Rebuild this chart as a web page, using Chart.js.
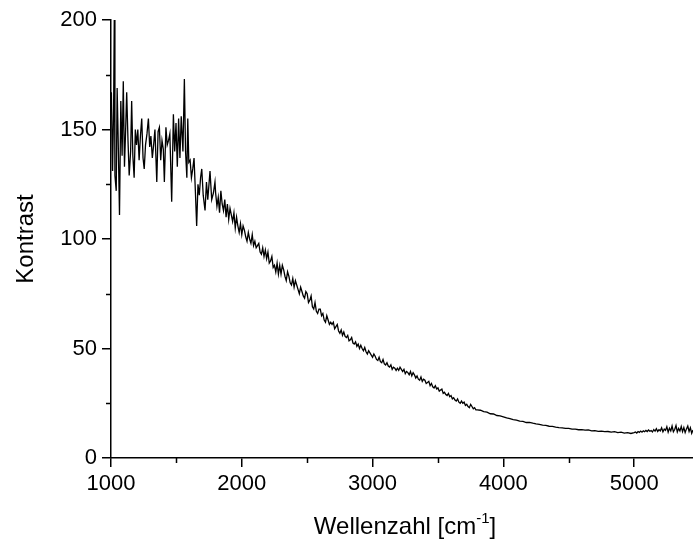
<!DOCTYPE html>
<html><head><meta charset="utf-8">
<script src="https://cdn.jsdelivr.net/npm/chart.js@4"></script>
<style>html,body{margin:0;padding:0;background:#fff}#wrap{width:693px;height:547px}</style>
</head><body><div id="wrap"><canvas id="c" width="693" height="547"></canvas></div>
<script>
const wavenumber = [
1003,1012,1020,1025,1030,1040,1047,1055,1065,1075,1085,1094,1103,1112,1120,1130,1139,1150,1158,1167,
1177,1186,1195,1205,1215,1225,1235,1245,1254,1264,1275,1286,1296,1305,1316,1326,1336,1350,1360,1370,
1380,1390,1400,1408,1420,1430,1440,1450,1464,1477,1487,1497,1507,1517,1527,1537,1550,1561,1570,1580,
1587,1595,1605,1615,1625,1635,1645,1655,1665,1675,1685,1694,1705,1719,1730,1740,1757,1770,1783,1795,
1800,1810,1820,1830,1840,1850,1860,1870,1880,1890,
1900,1910,1920,1930,1940,1950,1960,1970,1980,1990,
2000,2010,2020,2030,2040,2050,2060,2070,2080,2090,
2100,2110,2120,2130,2140,2150,2160,2170,2180,2190,
2200,2210,2220,2230,2240,2250,2260,2270,2280,2290,
2300,2310,2320,2330,2340,2350,2360,2370,2380,2390,
2400,2410,2420,2430,2440,2450,2460,2470,2480,2490,
2500,2510,2520,2530,2540,2550,2560,2570,2580,2590,
2600,2610,2620,2630,2640,2650,2660,2670,2680,2690,
2700,2710,2720,2730,2740,2750,2760,2770,2780,2790,
2800,2810,2820,2830,2840,2850,2860,2870,2880,2890,
2900,2910,2920,2930,2940,2950,2960,2970,2980,2990,
3000,3010,3020,3030,3040,3050,3060,3070,3080,3090,
3100,3110,3120,3130,3140,3150,3160,3170,3180,3190,
3200,3210,3220,3230,3240,3250,3260,3270,3280,3290,
3300,3310,3320,3330,3340,3350,3360,3370,3380,3390,
3400,3410,3420,3430,3440,3450,3460,3470,3480,3490,
3500,3510,3520,3530,3540,3550,3560,3570,3580,3590,
3600,3610,3620,3630,3640,3650,3660,3670,3680,3690,
3700,3710,3720,3730,3740,3750,3760,3770,3780,3790,
3800,3825,3850,3875,3900,3925,3950,3975,
4000,4025,4050,4075,4100,4125,4150,4175,4200,4225,4250,4275,4300,4325,4350,4375,4400,4425,4450,4475,
4500,4525,4550,4575,4600,4625,4650,4675,4700,4725,4750,4775,4800,4825,4850,4875,4900,4925,4950,4975,
5000,5010,5020,5030,5040,5050,5060,5070,5080,5090,
5100,5110,5120,5130,5140,5150,5160,5170,5180,5190,
5200,5210,5220,5230,5240,5250,5260,5270,5280,5290,
5300,5310,5320,5330,5340,5350,5360,5370,5380,5390,
5400,5410,5420,5430,5440,5450
];
const contrast = [
167,131,160,200,129,122,169,145,111,163,138,172,133,150,167,145,129,140,163,138,
128,150,143,150,136,147,155,137,132,143,148,155,142,147,137,143,150,126,149,151,
136,145,141,126,151,143,145,148,117,157,140,153,133,155,137,156,140,173,140,128,
155,135,136,128,132,137,122,106,125,120,128,132,120,113,126,118,131,118,121,126,
121,115,119,112,122,116,113,118,110,116,
109,114,111,108,112,105,110,106,103,107,
102,106,104,101,99,103,100,98,102,97,
99,96,97,98,94,93,96,92,95,91,
94,89,90,92,87,88,85,89,84,88,
84,88,86,83,81,85,83,80,79,82,
78,81,79,77,75,78,76,74,73,76,
75,71,72,74,69,68,71,67,66,68,
68,65,66,63,62,65,63,61,62,61,
62,59,60,61,58,57,58.5,56,57.5,55.5,
55,56,53.5,54,55,52.5,52,53,51,52,
50,51.5,50,49,50.5,48.5,47.5,49,48,47,
46,47.5,46.5,45,44.5,46,44,43.5,45,43,
42.5,43.5,42,41.5,42.5,40.5,41.5,41,40,41,
40,41.5,40.5,39.5,40.5,38.5,39.5,39,38,39.5,
37.5,39,38,36.5,37.5,36,35.5,37,35,36,
35.5,34,34.5,35,33,34,32.5,32,33,31.5,
32,30.5,31,31.5,29.5,30,29,28.5,29.5,28,
28.5,27,27.5,26.5,26,27,25.5,25,26,25,
25.5,24,24.5,23.5,23,24.5,23.5,22.5,23,22,
22.0,21.8,21.2,20.9,20.2,20.1,19.4,19.2,
18.8,18.3,18.0,17.5,17.3,16.8,16.7,16.2,16.3,15.9,15.6,15.4,15.0,14.9,14.5,14.4,14.1,13.9,13.8,13.5,
13.5,13.2,13.2,12.9,13.0,12.7,12.8,12.4,12.5,12.2,12.3,12.0,12.1,11.8,12.0,11.6,11.8,11.4,11.6,11.2,
11.6,11.9,11.4,12.1,11.7,12.3,11.8,12.4,12.0,12.6,
12.1,12.8,12.2,12.5,11.9,13.0,12.3,13.4,12.1,12.9,
12.4,13.8,12.0,13.2,12.6,14.3,11.8,13.6,12.4,14.6,
12.0,13.0,14.8,11.9,13.5,12.3,14.4,12.0,13.9,11.6,
13.3,14.6,12.1,13.8,11.3,12.8
];
const xTicks = [1000,2000,3000,4000,5000];
const xMinorTicks = [1500,2500,3500,4500];
const yTicks = [0,50,100,150,200];
const yMinorTicks = [25,75,125,175];
const xTitleMain = 'Wellenzahl [cm';
const xTitleSup = '-1';
const xTitleEnd = ']';
const yTitle = 'Kontrast';

const FONT = '"Liberation Sans", Arial, sans-serif';

const extras = {
  id: 'extras',
  afterDraw(chart) {
    const ctx = chart.ctx, xs = chart.scales.x, ys = chart.scales.y, ca = chart.chartArea;
    ctx.save();
    ctx.strokeStyle = '#000';
    ctx.lineWidth = 1.5;
    ctx.beginPath();
    yMinorTicks.forEach(v => { const p = Math.round(ys.getPixelForValue(v)) + 0.5; ctx.moveTo(ca.left - 5, p); ctx.lineTo(ca.left, p); });
    xMinorTicks.forEach(v => { const p = Math.round(xs.getPixelForValue(v)) + 0.5; ctx.moveTo(p, ca.bottom); ctx.lineTo(p, ca.bottom + 5); });
    ctx.stroke();
    ctx.fillStyle = '#000';
    ctx.font = '24px ' + FONT;
    const w1 = ctx.measureText(xTitleMain).width;
    const w3 = ctx.measureText(xTitleEnd).width;
    ctx.font = '15px ' + FONT;
    const w2 = ctx.measureText(xTitleSup).width;
    const cx = (ca.left + ca.right) / 2 + 3;
    const x0 = cx - (w1 + w2 + w3) / 2;
    const base = 534;
    ctx.textBaseline = 'alphabetic';
    ctx.textAlign = 'left';
    ctx.font = '24px ' + FONT;
    ctx.fillText(xTitleMain, x0, base);
    ctx.font = '15px ' + FONT;
    ctx.fillText(xTitleSup, x0 + w1, base - 11);
    ctx.font = '24px ' + FONT;
    ctx.fillText(xTitleEnd, x0 + w1 + w2, base);
    ctx.translate(26, (ca.top + ca.bottom) / 2);
    ctx.rotate(-Math.PI / 2);
    ctx.textAlign = 'center';
    ctx.textBaseline = 'middle';
    ctx.font = '24px ' + FONT;
    ctx.fillText(yTitle, 0, 0);
    ctx.restore();
  }
};

new Chart(document.getElementById('c'), {
  type: 'line',
  data: {
    datasets: [{
      data: wavenumber.map((x, i) => ({x: x, y: contrast[i]})),
      borderColor: '#000',
      borderWidth: 1.3,
      pointRadius: 0,
      tension: 0,
      fill: false
    }]
  },
  options: {
    responsive: false,
    animation: false,
    layout: {padding: {top: 20, left: 0, right: 0, bottom: 0}},
    plugins: {legend: {display: false}, tooltip: {enabled: false}},
    scales: {
      x: {
        type: 'linear', min: 1000, max: 5450,
        afterBuildTicks: s => { s.ticks = xTicks.map(v => ({value: v})); },
        afterFit: s => { s.height = 89; },
        grid: {drawOnChartArea: false, drawTicks: true, tickLength: 9, color: '#000', lineWidth: 1.5},
        border: {display: true, color: '#000', width: 1.5},
        ticks: {color: '#000', font: {family: FONT, size: 22}, padding: 4, maxRotation: 0, autoSkip: false,
                callback: v => String(v)}
      },
      y: {
        type: 'linear', min: 0, max: 200,
        afterBuildTicks: s => { s.ticks = yTicks.map(v => ({value: v})); },
        afterFit: s => { s.width = 111; },
        grid: {drawOnChartArea: false, drawTicks: true, tickLength: 9, color: '#000', lineWidth: 1.5},
        border: {display: true, color: '#000', width: 1.5},
        ticks: {color: '#000', font: {family: FONT, size: 22}, padding: 5, autoSkip: false,
                callback: v => String(v)}
      }
    }
  },
  plugins: [extras]
});
</script>
</body></html>
